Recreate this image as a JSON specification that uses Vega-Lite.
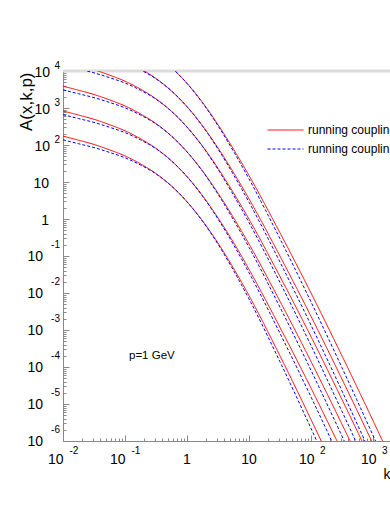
{
  "$schema": "https://vega.github.io/schema/vega-lite/v6.json",
  "width": 327,
  "height": 370,
  "autosize": {"type": "none"},
  "padding": {"left": 63, "top": 71, "right": 0, "bottom": 64},
  "background": "white",
  "config": {"view": {"stroke": null}, "font": "Liberation Sans", "text": {"font": "Liberation Sans", "color": "black"}},
  "datasets": {
    "curves": [
      {"k": 0.01, "r1": 173.8, "r2": 831.8, "r3": 3890, "r4": 18200, "r5": 64570, "r6": 275400, "b1": 138.0, "b2": 660.7, "b3": 3090, "b4": 14450, "b5": 51290, "b6": 218800},
      {"k": 0.01778, "r1": 134.9, "r2": 645.7, "r3": 3020, "r4": 14130, "r5": 50120, "r6": 213800, "b1": 108.4, "b2": 518.8, "b3": 2427, "b4": 11350, "b5": 40270, "b6": 171800},
      {"k": 0.03162, "r1": 103.5, "r2": 495.5, "r3": 2317, "r4": 10840, "r5": 38460, "r6": 164100, "b1": 85.11, "b2": 407.4, "b3": 1905, "b4": 8913, "b5": 31620, "b6": 134900},
      {"k": 0.05623, "r1": 74.13, "r2": 354.8, "r3": 1660, "r4": 7762, "r5": 27540, "r6": 117500, "b1": 63.10, "b2": 302.0, "b3": 1413, "b4": 6607, "b5": 23440, "b6": 100000},
      {"k": 0.1, "r1": 50.70, "r2": 242.7, "r3": 1135, "r4": 5309, "r5": 18840, "r6": 80350, "b1": 45.19, "b2": 216.3, "b3": 1012, "b4": 4732, "b5": 16790, "b6": 71610},
      {"k": 0.1778, "r1": 30.90, "r2": 147.9, "r3": 691.8, "r4": 3236, "r5": 11480, "r6": 48980, "b1": 28.84, "b2": 138.0, "b3": 645.7, "b4": 3020, "b5": 10720, "b6": 45710},
      {"k": 0.3162, "r1": 16.90, "r2": 80.91, "r3": 378.4, "r4": 1770, "r5": 6281, "r6": 26790, "b1": 16.52, "b2": 79.07, "b3": 369.8, "b4": 1730, "b5": 6138, "b6": 26180},
      {"k": 0.5623, "r1": 7.762, "r2": 37.15, "r3": 173.8, "r4": 812.8, "r5": 2884, "r6": 12300, "b1": 7.762, "b2": 37.15, "b3": 173.8, "b4": 812.8, "b5": 2884, "b6": 12300},
      {"k": 1, "r1": 2.917, "r2": 13.96, "r3": 65.31, "r4": 305.5, "r5": 1084, "r6": 4624, "b1": 2.917, "b2": 13.96, "b3": 65.31, "b4": 305.5, "b5": 1084, "b6": 4624},
      {"k": 1.778, "r1": 0.8913, "r2": 4.266, "r3": 19.95, "r4": 93.33, "r5": 331.1, "r6": 1413, "b1": 0.8710, "b2": 4.169, "b3": 19.50, "b4": 91.20, "b5": 323.6, "b6": 1380},
      {"k": 3.162, "r1": 0.2239, "r2": 1.072, "r3": 5.012, "r4": 23.44, "r5": 83.18, "r6": 354.8, "b1": 0.2089, "b2": 1.0, "b3": 4.677, "b4": 21.88, "b5": 77.62, "b6": 331.1},
      {"k": 5.623, "r1": 0.04677, "r2": 0.2328, "r3": 1.089, "r4": 5.093, "r5": 18.07, "r6": 77.09, "b1": 0.04074, "b2": 0.2028, "b3": 0.9484, "b4": 4.436, "b5": 15.74, "b6": 67.14},
      {"k": 10, "r1": 0.008511, "r2": 0.04365, "r3": 0.2113, "r4": 0.9886, "r5": 3.508, "r6": 14.96, "b1": 0.006918, "b2": 0.03548, "b3": 0.1718, "b4": 0.8035, "b5": 2.851, "b6": 12.16},
      {"k": 31.62, "r1": 1.995e-4, "r2": 1.175e-3, "r3": 5.957e-3, "r4": 0.02786, "r5": 0.09886, "r6": 0.4217, "b1": 1.380e-4, "b2": 8.128e-4, "b3": 4.121e-3, "b4": 0.01928, "b5": 0.06839, "b6": 0.2917},
      {"k": 100, "r1": 3.802e-6, "r2": 2.692e-5, "r3": 1.413e-4, "r4": 6.607e-4, "r5": 2.344e-3, "r6": 0.01, "b1": 2.188e-6, "b2": 1.549e-5, "b3": 8.128e-5, "b4": 3.802e-4, "b5": 1.349e-3, "b6": 5.754e-3},
      {"k": 316.2, "r1": 6.310e-8, "r2": 5.248e-7, "r3": 2.818e-6, "r4": 1.318e-5, "r5": 4.677e-5, "r6": 1.995e-4, "b1": 3.020e-8, "b2": 2.512e-7, "b3": 1.349e-6, "b4": 6.310e-6, "b5": 2.239e-5, "b6": 9.550e-5},
      {"k": 1000, "r1": 1e-9, "r2": 9.120e-9, "r3": 5.012e-8, "r4": 2.344e-7, "r5": 8.318e-7, "r6": 3.548e-6, "b1": 3.981e-10, "b2": 3.631e-9, "b3": 1.995e-8, "b4": 9.333e-8, "b5": 3.311e-7, "b6": 1.413e-6},
      {"k": 3162, "r1": 1.259e-11, "r2": 1.413e-10, "r3": 7.943e-10, "r4": 3.715e-9, "r5": 1.318e-8, "r6": 5.623e-8, "b1": 4.169e-12, "b2": 4.677e-11, "b3": 2.630e-10, "b4": 1.230e-9, "b5": 4.365e-9, "b6": 1.862e-8}
    ],
    "ylab": [
      {"v": 10000, "b": "10", "e": "4"},
      {"v": 1000, "b": "10", "e": "3"},
      {"v": 100, "b": "10", "e": "2"},
      {"v": 10, "b": "10", "e": ""},
      {"v": 1, "b": "1", "e": ""},
      {"v": 0.1, "b": "10", "e": "-1"},
      {"v": 0.01, "b": "10", "e": "-2"},
      {"v": 0.001, "b": "10", "e": "-3"},
      {"v": 0.0001, "b": "10", "e": "-4"},
      {"v": 0.00001, "b": "10", "e": "-5"},
      {"v": 0.000001, "b": "10", "e": "-6"}
    ],
    "xlab": [
      {"v": 0.01, "b": "10", "e": "-2"},
      {"v": 0.1, "b": "10", "e": "-1"},
      {"v": 1, "b": "1", "e": ""},
      {"v": 10, "b": "10", "e": ""},
      {"v": 100, "b": "10", "e": "2"},
      {"v": 1000, "b": "10", "e": "3"}
    ],
    "note": [{"k": 0.116, "A": 0.0002, "t": "p=1 GeV"}]
  },
  "layer": [
    {
      "data": {"values": [{}]},
      "mark": {"type": "rule", "color": "#dcdcdc", "strokeWidth": 3},
      "encoding": {"y": {"datum": 10000}}
    },
    {
      "data": {"name": "curves"},
      "transform": [{"fold": ["r1", "r2", "r3", "r4", "r5", "r6", "b1", "b2", "b3", "b4", "b5", "b6"], "as": ["s", "A"]}],
      "mark": {"type": "line", "clip": true, "interpolate": "monotone", "strokeWidth": 1},
      "encoding": {
        "x": {
          "field": "k", "type": "quantitative",
          "scale": {"type": "log", "domain": [0.01, 1879], "nice": false},
          "axis": {
            "title": "k", "labels": false, "grid": false, "tickCount": 60,
            "tickColor": "#888888", "domainColor": "#888888", "tickWidth": 1, "domainWidth": 1,
            "tickSize": {"condition": {"test": "abs(log(datum.value)/LN10 - round(log(datum.value)/LN10)) < 0.01", "value": -6}, "value": -3},
            "titleFont": "Liberation Sans", "titleFontSize": 14, "titleFontWeight": "normal", "titleColor": "black",
            "titleAlign": "right", "titleBaseline": "alphabetic", "titleX": 327, "titleY": 37
          }
        },
        "y": {
          "field": "A", "type": "quantitative",
          "scale": {"type": "log", "domain": [0.000001, 10000], "nice": false},
          "axis": {
            "title": "A(x,k,p)", "labels": false, "grid": false, "tickCount": 60,
            "tickColor": "#888888", "domainColor": "#888888", "tickWidth": 1, "domainWidth": 1,
            "tickSize": {"condition": {"test": "abs(log(datum.value)/LN10 - round(log(datum.value)/LN10)) < 0.01", "value": -6}, "value": -3},
            "titleFont": "Liberation Sans", "titleFontSize": 17, "titleFontWeight": "normal", "titleColor": "black",
            "titleAngle": 270, "titleAlign": "right", "titleBaseline": "alphabetic", "titleX": -32, "titleY": 1
          }
        },
        "color": {
          "field": "s", "type": "nominal",
          "scale": {"domain": ["r1", "r2", "r3", "r4", "r5", "r6", "b1", "b2", "b3", "b4", "b5", "b6"],
                    "range": ["#ff0000", "#ff0000", "#ff0000", "#ff0000", "#ff0000", "#ff0000", "#0000ff", "#0000ff", "#0000ff", "#0000ff", "#0000ff", "#0000ff"]},
          "legend": {"values": ["r1", "b1"], "labelExpr": "'running coupling'", "title": null, "orient": "none", "legendX": 204, "legendY": 53,
                     "symbolType": "stroke", "symbolSize": 1296, "symbolStrokeWidth": 1, "clipHeight": 12, "rowPadding": 7, "padding": 0,
                     "labelFont": "Liberation Sans", "labelFontSize": 12, "labelColor": "black", "labelLimit": 300, "labelOffset": 4}
        },
        "strokeDash": {
          "field": "s", "type": "nominal",
          "scale": {"domain": ["r1", "r2", "r3", "r4", "r5", "r6", "b1", "b2", "b3", "b4", "b5", "b6"],
                    "range": [[1, 0], [1, 0], [1, 0], [1, 0], [1, 0], [1, 0], [3, 2], [3, 2], [3, 2], [3, 2], [3, 2], [3, 2]]},
          "legend": {"values": ["r1", "b1"], "labelExpr": "'running coupling'", "title": null, "orient": "none", "legendX": 204, "legendY": 53,
                     "symbolType": "stroke", "symbolSize": 1296, "symbolStrokeWidth": 1, "clipHeight": 12, "rowPadding": 7, "padding": 0,
                     "labelFont": "Liberation Sans", "labelFontSize": 12, "labelColor": "black", "labelLimit": 300, "labelOffset": 4}
        }
      }
    },
    {
      "data": {"name": "ylab"},
      "transform": [{"filter": "length(datum.e) == 1"}],
      "mark": {"type": "text", "align": "right", "baseline": "middle", "dx": -13, "dy": 2, "fontSize": 14},
      "encoding": {"x": {"datum": 0.01}, "y": {"field": "v", "type": "quantitative"}, "text": {"field": "b"}}
    },
    {
      "data": {"name": "ylab"},
      "transform": [{"filter": "length(datum.e) == 1"}],
      "mark": {"type": "text", "align": "right", "baseline": "middle", "dx": -3, "dy": -5, "fontSize": 10},
      "encoding": {"x": {"datum": 0.01}, "y": {"field": "v", "type": "quantitative"}, "text": {"field": "e"}}
    },
    {
      "data": {"name": "ylab"},
      "transform": [{"filter": "length(datum.e) == 2"}],
      "mark": {"type": "text", "align": "right", "baseline": "middle", "dx": -20, "dy": 1, "fontSize": 14},
      "encoding": {"x": {"datum": 0.01}, "y": {"field": "v", "type": "quantitative"}, "text": {"field": "b"}}
    },
    {
      "data": {"name": "ylab"},
      "transform": [{"filter": "length(datum.e) == 2"}],
      "mark": {"type": "text", "align": "right", "baseline": "middle", "dx": -3, "dy": -11, "fontSize": 10},
      "encoding": {"x": {"datum": 0.01}, "y": {"field": "v", "type": "quantitative"}, "text": {"field": "e"}}
    },
    {
      "data": {"name": "ylab"},
      "transform": [{"filter": "length(datum.e) == 0"}],
      "mark": {"type": "text", "align": "right", "baseline": "middle", "dx": -14, "dy": 1.5, "fontSize": 14},
      "encoding": {"x": {"datum": 0.01}, "y": {"field": "v", "type": "quantitative"}, "text": {"field": "b"}}
    },
    {
      "data": {"name": "xlab"},
      "transform": [{"filter": "length(datum.e) == 2"}],
      "mark": {"type": "text", "align": "right", "baseline": "middle", "dx": 0.5, "dy": 19, "fontSize": 14},
      "encoding": {"y": {"datum": 0.000001}, "x": {"field": "v", "type": "quantitative"}, "text": {"field": "b"}}
    },
    {
      "data": {"name": "xlab"},
      "transform": [{"filter": "length(datum.e) == 2"}],
      "mark": {"type": "text", "align": "left", "baseline": "middle", "dx": 6.5, "dy": 9.5, "fontSize": 10},
      "encoding": {"y": {"datum": 0.000001}, "x": {"field": "v", "type": "quantitative"}, "text": {"field": "e"}}
    },
    {
      "data": {"name": "xlab"},
      "transform": [{"filter": "length(datum.e) == 1"}],
      "mark": {"type": "text", "align": "right", "baseline": "middle", "dx": 3.5, "dy": 19, "fontSize": 14},
      "encoding": {"y": {"datum": 0.000001}, "x": {"field": "v", "type": "quantitative"}, "text": {"field": "b"}}
    },
    {
      "data": {"name": "xlab"},
      "transform": [{"filter": "length(datum.e) == 1"}],
      "mark": {"type": "text", "align": "left", "baseline": "middle", "dx": 9, "dy": 9.5, "fontSize": 10},
      "encoding": {"y": {"datum": 0.000001}, "x": {"field": "v", "type": "quantitative"}, "text": {"field": "e"}}
    },
    {
      "data": {"name": "xlab"},
      "transform": [{"filter": "length(datum.e) == 0"}],
      "mark": {"type": "text", "align": "center", "baseline": "middle", "dx": 0, "dy": 19, "fontSize": 14},
      "encoding": {"y": {"datum": 0.000001}, "x": {"field": "v", "type": "quantitative"}, "text": {"field": "b"}}
    },
    {
      "data": {"name": "note"},
      "mark": {"type": "text", "align": "left", "baseline": "middle", "fontSize": 11.5},
      "encoding": {"x": {"field": "k", "type": "quantitative"}, "y": {"field": "A", "type": "quantitative"}, "text": {"field": "t"}}
    }
  ]
}
